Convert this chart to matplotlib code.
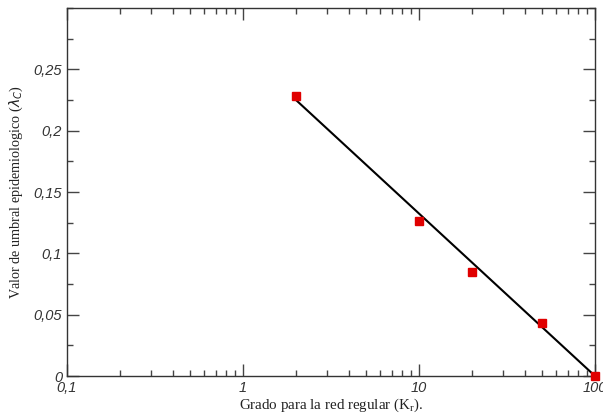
import matplotlib
matplotlib.use('Agg')
import matplotlib.pyplot as plt
from matplotlib.ticker import FixedLocator, FuncFormatter, MultipleLocator, LogLocator, NullFormatter

# datos medidos
grado = [2, 10, 20, 50, 100]
umbral = [0.228, 0.126, 0.0845, 0.043, 0.0]

# recta de ajuste (lineal en log10 K)
ajuste_x = [2, 100]
ajuste_y = [0.225, 0.0]

fig = plt.figure(figsize=(6.03, 4.18), dpi=100)
ax = fig.add_axes([67 / 603, 1 - 376 / 418, 528 / 603, 368 / 418])

ax.plot(ajuste_x, ajuste_y, color='black', lw=1.5, zorder=2)
ax.plot(grado, umbral, 's', color='#e00000', markersize=6, zorder=3, clip_on=False)

ax.set_xscale('log')
ax.set_xlim(0.1, 100)
ax.set_ylim(0, 0.3)

ax.xaxis.set_major_locator(FixedLocator([0.1, 1, 10, 100]))
ax.xaxis.set_minor_locator(LogLocator(base=10, subs=range(2, 10)))
ax.xaxis.set_minor_formatter(NullFormatter())
ax.xaxis.set_major_formatter(FuncFormatter(lambda v, p: ('%g' % v).replace('.', ',')))

ax.yaxis.set_major_locator(FixedLocator([0, 0.05, 0.1, 0.15, 0.2, 0.25]))
ax.yaxis.set_minor_locator(MultipleLocator(0.025))
ax.yaxis.set_major_formatter(FuncFormatter(lambda v, p: ('%g' % round(v, 3)).replace('.', ',')))

ax.tick_params(which='both', direction='in', top=True, right=True, width=1, color='#444444')
ax.tick_params(which='major', length=8.5)
ax.tick_params(which='minor', length=4.5)
for lab in ax.get_xticklabels() + ax.get_yticklabels():
    lab.set_family('Liberation Sans')
    lab.set_style('italic')
    lab.set_fontsize(10.5)
    lab.set_color('#333333')
for s in ax.spines.values():
    s.set_linewidth(1)
    s.set_color('#333333')

ax.set_xlabel('Grado para la red regular (K$_\\mathregular{r}$).', family='Liberation Serif', fontsize=10.8, color='#222222')
ax.set_ylabel('Valor de umbral epidemiologico ($\\lambda_C$)', family='Liberation Serif', fontsize=10.2, color='#222222')
ax.xaxis.set_label_coords(0.5, -0.055)
ax.yaxis.set_label_coords(-0.079, 0.5)

fig.savefig('out.png', dpi=100)
